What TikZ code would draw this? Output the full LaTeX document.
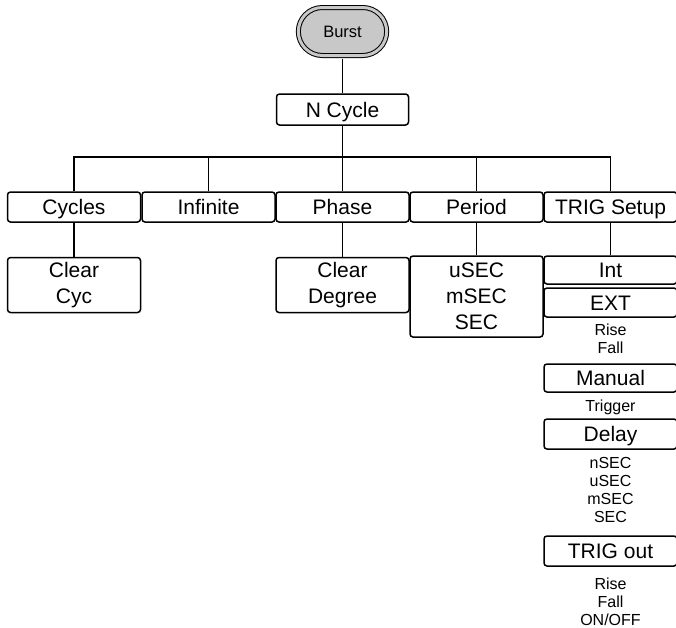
\documentclass[tikz,border=0pt]{standalone}
\usepackage{fontspec}
\setmainfont{Liberation Sans}
\usepackage{tikz}
\usetikzlibrary{shapes,positioning,calc}

\definecolor{burstgray}{RGB}{200,200,200}

\begin{document}
\begin{tikzpicture}[
    x=1pt, y=-1pt,
    menu/.style={rectangle, draw, line width=1.5pt, rounded corners=3pt, minimum width=133pt, minimum height=30pt, inner sep=0pt, align=center, font=\fontsize{21}{26}\selectfont},
    single/.style={text height=15pt, text depth=0pt},
    root/.style={rounded rectangle, draw, line width=1pt, fill=burstgray, double=burstgray, double distance=3pt, minimum width=95pt, minimum height=48pt, text height=11.5pt, text depth=0pt, font=\fontsize{16.5}{18}\selectfont},
    option/.style={inner sep=0pt, align=center, font=\fontsize{16}{17.8}\selectfont},
    link/.style={line width=1.5pt}
]
\useasboundingbox (0,0) rectangle (676,627);

% Root and first level
\node[root] (burst) at (342.5,31.5) {Burst};
\node[menu, single, minimum width=132pt, minimum height=31pt] (ncycle) at (342.5,109.5) {N Cycle};

% Menu row
\node[menu, single] (cycles) at (74,207) {Cycles};
\node[menu, single] (infinite) at (208.5,207) {Infinite};
\node[menu, single] (phase) at (342.5,207) {Phase};
\node[menu, single] (period) at (476.5,207) {Period};
\node[menu, single] (trigsetup) at (610.5,207) {TRIG Setup};

% Sub menus
\node[menu, minimum height=55pt] (clearcyc) at (74,285) {Clear\\Cyc};
\node[menu, minimum height=55pt] (cleardeg) at (342.5,285) {Clear\\Degree};
\node[menu, minimum height=81pt] (units) at (476.5,296.5) {uSEC\\mSEC\\SEC};

% Trigger setup column
\node[menu, single, minimum height=28pt] (int) at (610.5,270) {Int};
\node[menu, single, minimum height=29pt] (ext) at (610.5,302.5) {EXT};
\node[option] (extopt) at (610.5,338.5) {Rise\\Fall};
\node[menu, single, minimum height=28pt] (manual) at (610.5,378) {Manual};
\node[option] (manualopt) at (610.5,407) {Trigger};
\node[menu, single] (delay) at (610.5,434) {Delay};
\node[option] (delayopt) at (610.5,490) {nSEC\\uSEC\\mSEC\\SEC};
\node[menu, single] (trigout) at (610.5,551) {TRIG out};
\node[option] (trigoutopt) at (610.5,601.5) {Rise\\Fall\\ON/OFF};

% Connectors
\coordinate (bus) at (342.5,157);
\draw[link, shorten <=2.5pt] (burst.south) -- (ncycle.north);
\draw[link] (ncycle.south) -- (bus);
\foreach \n in {cycles, infinite, phase, period, trigsetup}
    \draw[link] (bus) -| (\n.north);
\draw[link] (cycles) -- (clearcyc);
\draw[link] (phase) -- (cleardeg);
\draw[link] (period) -- (units);
\draw[link] (trigsetup) -- (int);

\end{tikzpicture}
\end{document}
